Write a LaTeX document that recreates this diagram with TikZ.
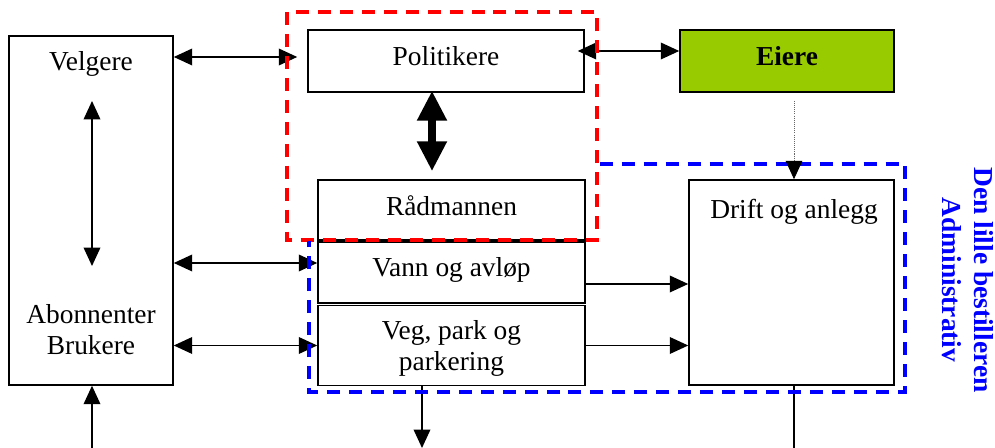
\documentclass[tikz,border=0pt]{standalone}
\usepackage{fontspec}
\setmainfont{Liberation Serif}
\usepackage{xcolor}
\usepackage{tikz}
\usetikzlibrary{arrows.meta}
\definecolor{eieregreen}{RGB}{153, 204, 0}
\definecolor{frameblue}{RGB}{0, 0, 255}
\definecolor{framered}{RGB}{255, 0, 0}

\tikzset{
  box/.style={draw, line width=0.9pt, inner sep=0pt, text height=0.8em, text depth=0.32em},
  arr/.style={line width=0.8pt, -{Triangle[length=10.5pt, width=9.5pt]}},
  darr/.style={line width=0.8pt, {Triangle[length=10.5pt, width=9.5pt]}-{Triangle[length=10.5pt, width=9.5pt]}},
  bigarr/.style={line width=4.5pt, {Triangle[length=17pt, width=16pt]}-{Triangle[length=17pt, width=16pt]}},
  frame/.style={line width=1.8pt, dash pattern=on 7.4pt off 5.1pt},
}

\begin{document}
\begin{tikzpicture}[x=0.02cm, y=-0.02cm, font=\fontsize{15.6}{18}\selectfont]
\useasboundingbox (0,0) rectangle (995,448);

% Boxes
\node[box, minimum width=3.28cm, minimum height=6.98cm] (velg) at (91,210.5) {};
\node[box, minimum width=5.52cm, minimum height=1.24cm] (pol) at (446,61) {Politikere};
\node[box, fill=eieregreen, minimum width=4.28cm, minimum height=1.24cm, font=\fontsize{15.6}{18}\selectfont\bfseries] (eiere) at (787,61) {Eiere};
\node[box, minimum width=5.34cm, minimum height=1.2cm, text height=0.95em] (rad) at (451.5,210) {Rådmannen};
\node[box, minimum width=5.34cm, minimum height=1.22cm] (vann) at (451.5,272.5) {Vann og avløp};
\node[box, minimum width=5.34cm, minimum height=1.6cm] (veg) at (451.5,345.5) {};
\node[box, minimum width=4.1cm, minimum height=4.1cm] (drift) at (791.5,282.5) {};

% Texts inside the boxes
\node[anchor=base] (velgtxt) at (91,71) {Velgere};
\node[anchor=base, align=center] (abotxt) at (91,355) {Abonnenter\\Brukere};
\node[anchor=base, align=center] (vegtxt) at (451.5,371) {Veg, park og\\parkering};
\node[anchor=base] (drifttxt) at (794,219) {Drift og anlegg};

% Helper points
\coordinate (polin) at ([xshift=-0.2cm, yshift=0.08cm]pol.west);
\coordinate (poleast) at ([xshift=-0.14cm, yshift=0.2cm]pol.east);
\coordinate (vannin) at ([yshift=0.19cm]vann.west);
\coordinate (vannout) at ([yshift=-0.23cm]vann.east);
\coordinate (vtop) at (92,101);
\coordinate (vbot) at (92,266);
\coordinate (abo) at (92,448);
\coordinate (pr) at (432,0);
\coordinate (dx) at (794,0);
\coordinate (vegdown) at (422,448);
\coordinate (driftdown) at (794,448);

% Connections
\draw[darr] (poleast) -- (eiere.west |- poleast);
\draw[darr] (velg.east |- polin) -- (polin);
\draw[darr] (velg.east |- vannin) -- (vannin);
\draw[darr] (velg.east |- veg.west) -- (veg.west);
\draw[darr] (vtop) -- (vbot);
\draw[arr] (abo) -- (velg.south -| abo);
\draw[bigarr] ([yshift=0.04cm]pol.south -| pr) -- ([yshift=0.16cm]rad.north -| pr);
\draw[arr] (vannout) -- (drift.west |- vannout);
\draw[arr] (veg.east) -- (drift.west |- veg.east);
\draw[arr] (veg.south -| vegdown) -- (vegdown);
\draw[line width=0.8pt] (drift.south -| driftdown) -- (driftdown);

% Red and blue dashed areas
\draw[frame, framered] (287,12) rectangle (597,240);
\draw[frame, frameblue] (600,164) -- (905,164) -- (905,392) -- (309,392) -- (309,241);

% Owner line
\draw[gray!80!black, line width=0.5pt, dash pattern=on 0.6pt off 0.6pt, shorten <=0.16cm, -{Triangle[length=10.5pt, width=9.5pt, color=black]}] (eiere.south -| dx) -- (drift.north -| dx);

\node[rotate=-90, align=center, text=frameblue, font=\fontsize{15.6}{18}\selectfont\bfseries] (lbl) at (968,280) {Den lille bestilleren\\Administrativ};
\end{tikzpicture}
\end{document}
